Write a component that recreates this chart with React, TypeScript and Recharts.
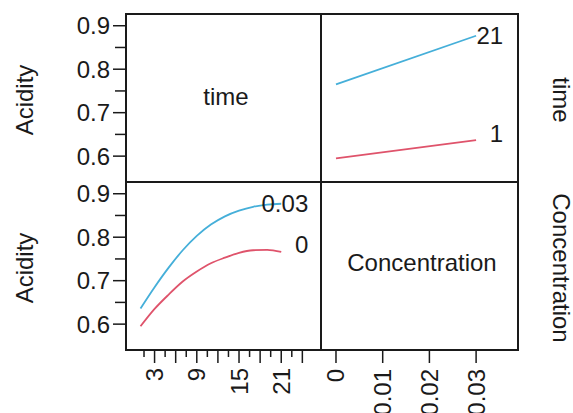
import { LineChart, Line, XAxis, YAxis, LabelList } from 'recharts'

// acidity vs time, one curve per concentration
const timePoints = [1, 3, 5, 7, 9, 11, 13, 15, 17, 19, 21]
const acidityConc0 = [0.595, 0.635, 0.668, 0.698, 0.721, 0.74, 0.753, 0.764, 0.77, 0.771, 0.766]
const acidityConc003 = [0.636, 0.685, 0.73, 0.77, 0.803, 0.829, 0.848, 0.861, 0.87, 0.875, 0.877]

// acidity vs concentration, one line per time
const concPoints = [0, 0.03]
const acidityTime1 = [0.595, 0.637]
const acidityTime21 = [0.765, 0.877]

const acidityTicks = [0.6, 0.65, 0.7, 0.75, 0.8, 0.85, 0.9]
const timeTicks = [1.5, 3, 4.5, 6, 7.5, 9, 10.5, 12, 13.5, 15, 16.5, 18, 19.5, 21, 22.5, 24]
const timeTickLabels = [3, 9, 15, 21]
const concTicks = [0, 0.01, 0.02, 0.03]
const concTickLabels = ['0', '0.01', '0.02', '0.03']

const timeData = timePoints.map((t, i) => ({ time: t, c0: acidityConc0[i], c003: acidityConc003[i] }))
const concData = concPoints.map((c, i) => ({ conc: c, t1: acidityTime1[i], t21: acidityTime21[i] }))

const FONT = '"Liberation Sans", Arial, sans-serif'
const FS = 24
const INK = '#1a1a1a'
const RED = '#DF536B'
const BLUE = '#45AFD9'

const yDomain: [number, number] = [0.5405, 0.927]
const timeDomain: [number, number] = [-1.06, 26.65]
const concDomain: [number, number] = [-0.00321, 0.03897]

const textStyle = { fontFamily: FONT, fontSize: FS, fill: INK }

function AcidityTick({ x, y, payload }: any) {
  const v = payload.value
  const major = Math.abs(v * 10 - Math.round(v * 10)) < 1e-6
  return (
    <g>
      <line x1={x - (major ? 13 : 11)} x2={x} y1={y} y2={y} stroke={INK} strokeWidth={1.5} />
      {major && (
        <text x={x - 16} y={y} textAnchor="end" dominantBaseline="central" style={textStyle}>
          {v.toFixed(1)}
        </text>
      )}
    </g>
  )
}

function TimeTick({ x, y, payload }: any) {
  const v = payload.value
  const long = Math.abs(v / 3 - Math.round(v / 3)) < 1e-6
  const labelled = timeTickLabels.includes(v)
  return (
    <g>
      <line x1={x} x2={x} y1={y} y2={y + (long ? 13 : 7)} stroke={INK} strokeWidth={1.5} />
      {labelled && (
        <text
          transform={`translate(${x}, ${y + 18}) rotate(-90)`}
          textAnchor="end"
          dominantBaseline="central"
          style={textStyle}
        >
          {v}
        </text>
      )}
    </g>
  )
}

function ConcTick({ x, y, payload, index }: any) {
  return (
    <g>
      <line x1={x} x2={x} y1={y} y2={y + 13} stroke={INK} strokeWidth={1.5} />
      <text
        transform={`translate(${x}, ${y + 19}) rotate(-90)`}
        textAnchor="end"
        dominantBaseline="central"
        style={textStyle}
      >
        {concTickLabels[concTicks.indexOf(payload.value)] ?? String(index)}
      </text>
    </g>
  )
}

const endLabel = (text: string, dy: number, last: number) => (props: any) => {
  if (props.index !== last) return null
  return (
    <text x={props.x + 27} y={props.y + dy} textAnchor="end" dominantBaseline="central" style={textStyle}>
      {text}
    </text>
  )
}

export default function App() {
  return (
    <div style={{ position: 'absolute', left: 0, top: 0, width: 573, height: 413, background: '#fff', overflow: 'hidden' }}>
      {/* top-left: y axis only, label panel */}
      <div style={{ position: 'absolute', left: 0, top: 0 }}>
        <LineChart width={321} height={182} data={timeData} margin={{ top: 14, right: 0, bottom: 0, left: 0 }}>
          <XAxis hide type="number" dataKey="time" domain={timeDomain} allowDataOverflow />
          <YAxis
            type="number"
            domain={yDomain}
            allowDataOverflow
            ticks={acidityTicks}
            interval={0}
            width={126}
            tickSize={0}
            tickMargin={0}
            axisLine={false}
            tickLine={false}
            tick={<AcidityTick />}
          />
        </LineChart>
      </div>

      {/* top-right: acidity vs concentration by time */}
      <div style={{ position: 'absolute', left: 321, top: 0 }}>
        <LineChart width={197} height={182} data={concData} margin={{ top: 14, right: 0, bottom: 0, left: 0 }}>
          <XAxis hide type="number" dataKey="conc" domain={concDomain} allowDataOverflow />
          <YAxis hide type="number" domain={yDomain} allowDataOverflow />
          <Line dataKey="t21" stroke={BLUE} strokeWidth={1.8} dot={false} isAnimationActive={false}>
            <LabelList content={endLabel('21', 0, concData.length - 1)} />
          </Line>
          <Line dataKey="t1" stroke={RED} strokeWidth={1.8} dot={false} isAnimationActive={false}>
            <LabelList content={endLabel('1', -7, concData.length - 1)} />
          </Line>
        </LineChart>
      </div>

      {/* bottom-left: acidity vs time by concentration */}
      <div style={{ position: 'absolute', left: 0, top: 168 }}>
        <LineChart width={321} height={245} data={timeData} margin={{ top: 14, right: 0, bottom: 0, left: 0 }}>
          <XAxis
            type="number"
            dataKey="time"
            domain={timeDomain}
            allowDataOverflow
            ticks={timeTicks}
            interval={0}
            height={63}
            tickSize={0}
            tickMargin={0}
            axisLine={false}
            tickLine={false}
            tick={<TimeTick />}
          />
          <YAxis
            type="number"
            domain={yDomain}
            allowDataOverflow
            ticks={acidityTicks}
            interval={0}
            width={126}
            tickSize={0}
            tickMargin={0}
            axisLine={false}
            tickLine={false}
            tick={<AcidityTick />}
          />
          <Line type="monotone" dataKey="c003" stroke={BLUE} strokeWidth={1.8} dot={false} isAnimationActive={false}>
            <LabelList content={endLabel('0.03', 0, timeData.length - 1)} />
          </Line>
          <Line type="monotone" dataKey="c0" stroke={RED} strokeWidth={1.8} dot={false} isAnimationActive={false}>
            <LabelList content={endLabel('0', -7, timeData.length - 1)} />
          </Line>
        </LineChart>
      </div>

      {/* bottom-right: concentration axis, label panel */}
      <div style={{ position: 'absolute', left: 321, top: 182 }}>
        <LineChart width={197} height={231} data={concData} margin={{ top: 0, right: 0, bottom: 0, left: 0 }}>
          <XAxis
            type="number"
            dataKey="conc"
            domain={concDomain}
            allowDataOverflow
            ticks={concTicks}
            interval={0}
            height={63}
            tickSize={0}
            tickMargin={0}
            axisLine={false}
            tickLine={false}
            tick={<ConcTick />}
          />
          <YAxis hide type="number" domain={yDomain} allowDataOverflow />
        </LineChart>
      </div>

      {/* panel frames and strip labels */}
      <svg width={573} height={413} style={{ position: 'absolute', left: 0, top: 0, pointerEvents: 'none' }}>
        <rect x={126} y={14} width={392} height={336} fill="none" stroke={INK} strokeWidth={2} />
        <line x1={321} x2={321} y1={14} y2={350} stroke={INK} strokeWidth={2} />
        <line x1={126} x2={518} y1={182} y2={182} stroke={INK} strokeWidth={2} />
        <text x={226} y={96} textAnchor="middle" dominantBaseline="central" style={textStyle}>time</text>
        <text x={422} y={262} textAnchor="middle" dominantBaseline="central" style={textStyle}>Concentration</text>
        <text transform="translate(24, 100) rotate(-90)" textAnchor="middle" dominantBaseline="central" style={textStyle}>Acidity</text>
        <text transform="translate(24, 268) rotate(-90)" textAnchor="middle" dominantBaseline="central" style={textStyle}>Acidity</text>
        <text transform="translate(561, 100) rotate(90)" textAnchor="middle" dominantBaseline="central" style={textStyle}>time</text>
        <text transform="translate(561, 268) rotate(90)" textAnchor="middle" dominantBaseline="central" style={textStyle}>Concentration</text>
      </svg>
    </div>
  )
}
